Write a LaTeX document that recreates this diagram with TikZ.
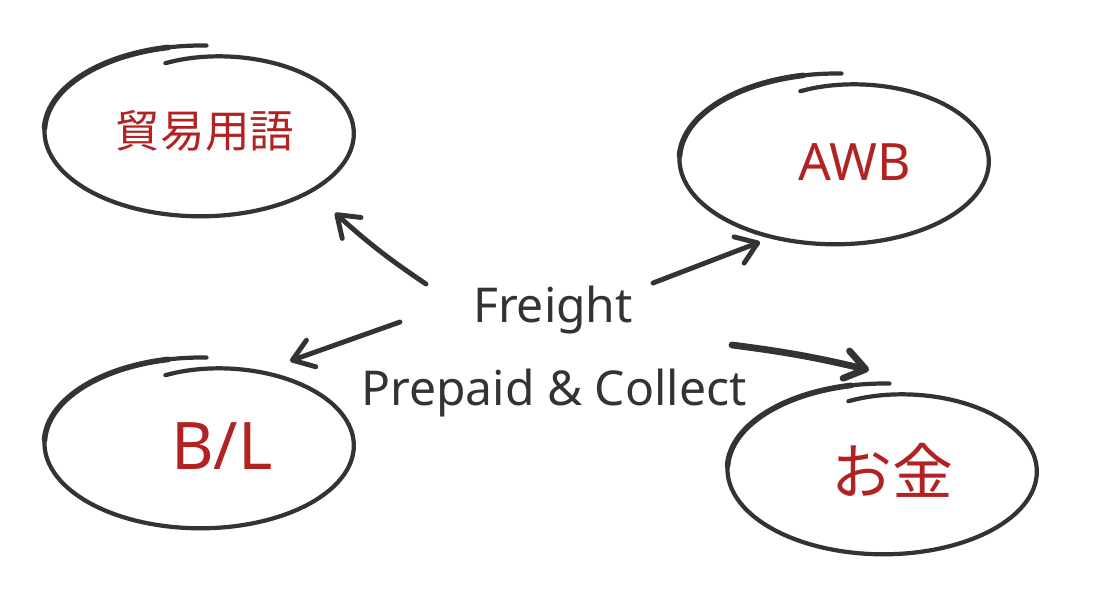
\documentclass[tikz,border=0pt]{standalone}
\usepackage{fontspec}
\setmainfont{Noto Sans}
\newfontfamily\jpfont{Noto Sans CJK JP}
\usetikzlibrary{arrows.meta,shapes.geometric}

\definecolor{ink}{RGB}{51,51,51}
\definecolor{wordred}{RGB}{178,34,34}

% hand drawn ring: a bit more than one turn, ends inside its start
\newcommand{\SketchRing}[2]{%
  \draw[ring] plot[smooth, domain=88:466, samples=90, variable=\t]
    ({#1+152*(1.03-0.18*((\t-88)/378)^6)*cos(\t)},
     {#2-83*(1.03-0.18*((\t-88)/378)^6)*sin(\t)});
  % heavier stroke where the pen came down
  \draw[ring, line width=4.8pt] plot[smooth, domain=102:178, samples=30, variable=\t]
    ({#1+152*1.03*cos(\t)}, {#2-83*1.03*sin(\t)});}

\tikzset{
  ring/.style={ink, line width=3.6pt, line cap=round, line join=round},
  word/.style={ellipse, inner sep=0pt, text=wordred},
  hand/.style={ink, font=\fontsize{41}{45}\selectfont},
  barb/.style={ink, line width=4.2pt, line cap=round,
    -{Straight Barb[length=17pt,width=24pt,round]}},
}

\begin{document}
\begin{tikzpicture}[x=0.03cm, y=-0.03cm]
  \useasboundingbox (0,0) rectangle (1100,612);

  % the four words
  \node[word, font=\jpfont\fontsize{38}{40}\selectfont] (terms) at (205,131) {貿易用語};
  \node[word, font=\fontsize{44}{48}\selectfont] (awb) at (855,162) {AWB};
  \node[word, font=\fontsize{56}{60}\selectfont] (bl) at (222,446) {B/L};
  \node[word, font=\jpfont\fontsize{52}{56}\selectfont] (money) at (892,470) {お金};

  % rings round them
  \SketchRing{201}{131}
  \SketchRing{836}{159}
  \SketchRing{201}{443}
  \SketchRing{884}{469}

  % middle text
  \node[hand, anchor=base] (freight) at (553,322) {Freight};
  \node[hand, anchor=base] (pc) at (554,405) {Prepaid \& Collect};

  % arrow ends
  \coordinate (a1) at (426,284); \coordinate (h1) at (335,213);
  \coordinate (a2) at (653,283); \coordinate (h2) at (760,242);
  \coordinate (a3) at (400,322); \coordinate (h3) at (290,361);
  \coordinate (a4) at (732,345); \coordinate (h4) at (869,370);

  \draw[barb] (a1) to[bend left=4] (h1);
  \draw[barb] (a2) -- (h2);
  \draw[barb] (a3) -- (h3);
  \draw[barb, line width=5.8pt] (a4) to[bend left=3] (h4);
\end{tikzpicture}
\end{document}
